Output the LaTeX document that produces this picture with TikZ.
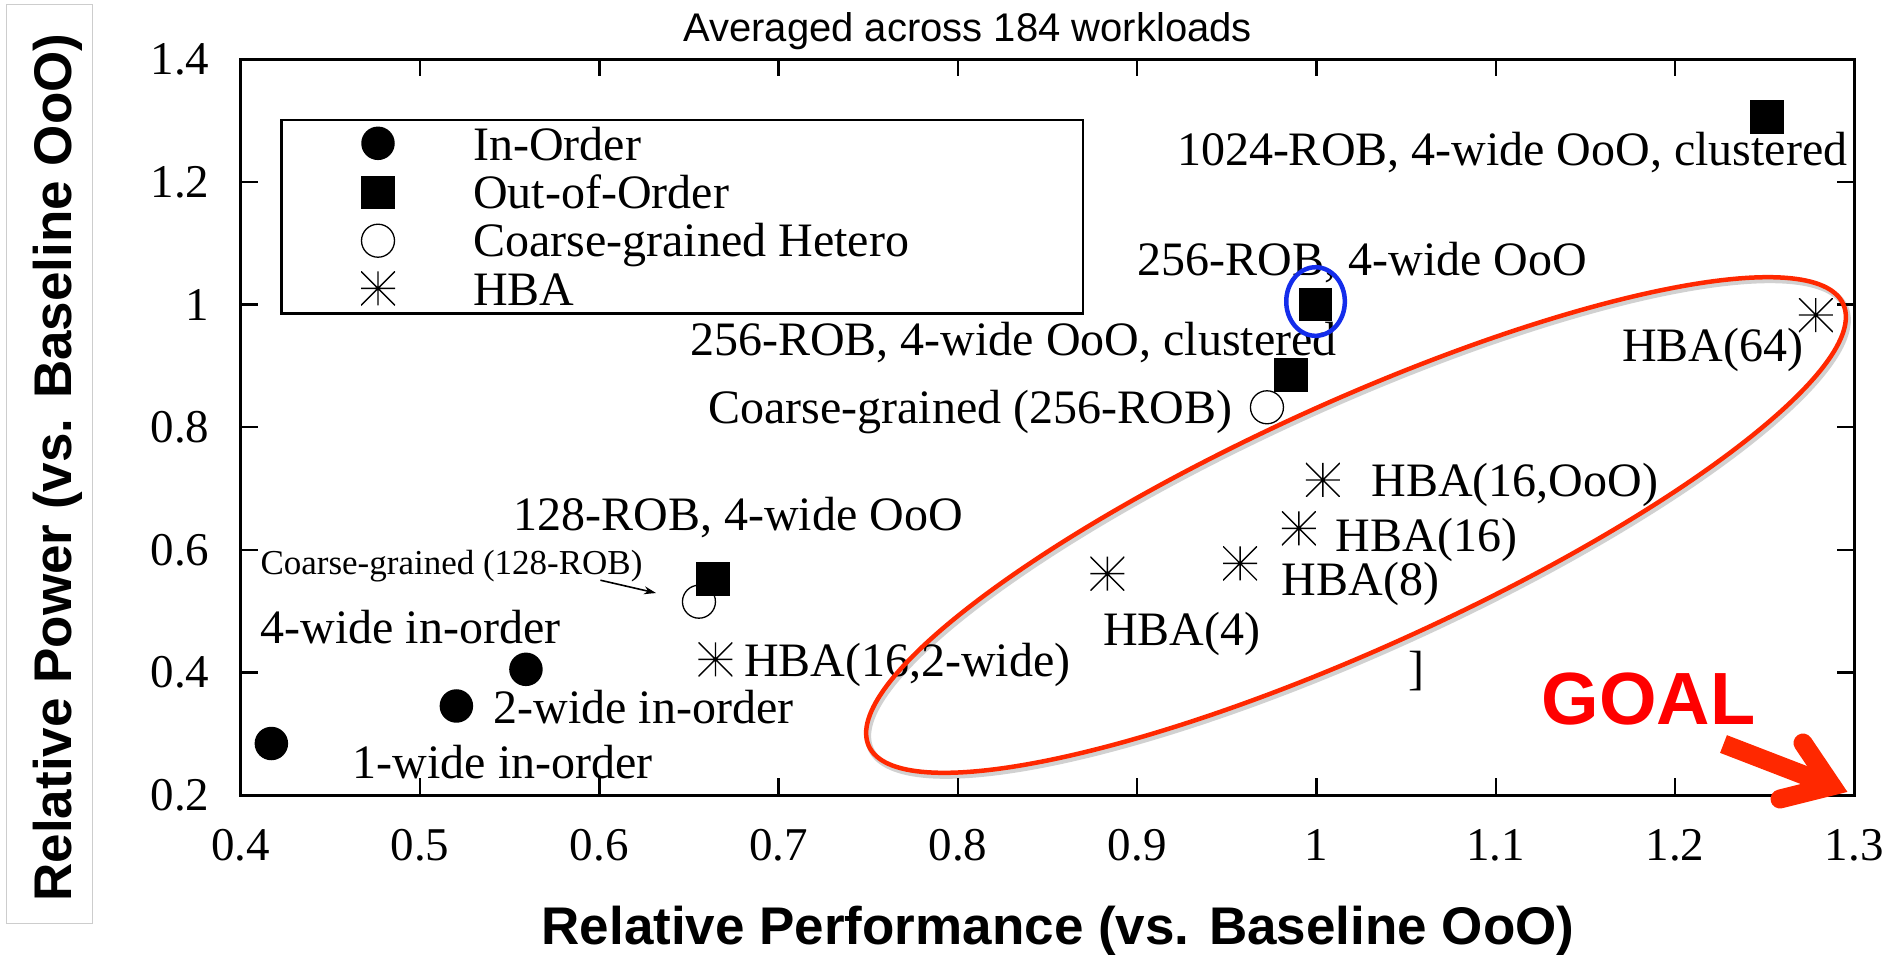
\documentclass[tikz,border=0pt]{standalone}
\usepackage{fontspec}
\setmainfont{Liberation Serif}
\newfontfamily\plotsans{Liberation Sans}
\usetikzlibrary{arrows.meta}

\definecolor{ringred}{RGB}{255,40,0}
\definecolor{goalred}{RGB}{255,0,0}
\definecolor{pickblue}{RGB}{20,45,235}
\definecolor{boxgray}{RGB}{205,205,205}

\newcommand{\fsz}[1]{\fontsize{#1}{#1}\selectfont}

\tikzset{
  frameline/.style={line width=3pt},
  tickline/.style={line width=2.5pt},
  ticklbl/.style={inner sep=0pt, font=\fsz{47}},
  lbl/.style={inner sep=0pt, anchor=base west, font=\fsz{48}},
  smalllbl/.style={lbl, font=\fsz{35}},
  axtitle/.style={inner sep=0pt, anchor=base, font=\plotsans\bfseries\fsz{53}},
  toptitle/.style={inner sep=0pt, anchor=base, font=\plotsans\fsz{40}},
  goaltext/.style={inner sep=0pt, anchor=base, text=goalred, font=\plotsans\bfseries\fsz{74}},
  incore/.style={circle, fill=black, minimum size=33.5pt, inner sep=0pt},
  ooocore/.style={rectangle, fill=black, minimum size=33.5pt, inner sep=0pt},
  cgcore/.style={circle, draw, line width=1.3pt, fill=white, minimum size=33pt, inner sep=0pt,
    path picture={\fill (path picture bounding box.center) circle (1.3pt);}},
  hbacore/.style={rectangle, minimum size=34pt, inner sep=0pt,
    path picture={\draw[line width=1.4pt]
      (path picture bounding box.north) -- (path picture bounding box.south)
      (path picture bounding box.west) -- (path picture bounding box.east)
      (path picture bounding box.north west) -- (path picture bounding box.south east)
      (path picture bounding box.north east) -- (path picture bounding box.south west);}},
  legendframe/.style={line width=2.5pt},
  pointer/.style={line width=1.6pt, -{Stealth[length=12pt,width=8pt]}},
  ring/.style={ringred, line width=4.5pt},
  ringshadow/.style={black, opacity=0.18, line width=6pt},
  pickring/.style={pickblue, line width=4.5pt},
  goalstroke/.style={ringred, line width=19pt}
}

\begin{document}
\begin{tikzpicture}[x=1pt, y=-1pt]
\useasboundingbox (0,0) rectangle (1888,954);

% vertical axis title in its own box
\draw[boxgray, line width=1pt] (6.7,4.7) rectangle (92.3,923.3);
\node[axtitle, rotate=90] (ytitle) at (71,467.5) {Relative Power (vs. Baseline OoO)};

% horizontal axis title and heading
\node[axtitle] (xtitle) at (1058,944.3) {Relative Performance (vs. Baseline OoO)};
\node[toptitle] (heading) at (967.6,41.7) {Averaged across 184 workloads};

% plot frame
\draw[frameline] (240.7,59.3) rectangle (1854.3,795);

% data coordinates: x = performance, y = power
\begin{scope}[shift={(-476.46,917.62)}, x=1792.9pt, y=613.1pt]
  \foreach \p in {0.5,0.6,0.7,0.8,0.9,1.0,1.1,1.2} {
    \draw[tickline] (\p,0.2) -- ++(0,17pt);
    \draw[tickline] (\p,1.4) -- ++(0,-17pt);
  }
  \foreach \w in {0.4,0.6,0.8,1.0,1.2} {
    \draw[tickline] (0.4,\w) -- ++(17pt,0);
    \draw[tickline] (1.3,\w) -- ++(-17pt,0);
  }
  \foreach \p/\t [count=\i] in {0.4/0.4,0.5/0.5,0.6/0.6,0.7/0.7,0.8/0.8,0.9/0.9,1.0/1,1.1/1.1,1.2/1.2,1.3/1.3}
    \node[ticklbl] (xt\i) at ([yshift=-50pt]\p,0.2) {\t};
  \foreach \w/\t [count=\i] in {0.2/0.2,0.4/0.4,0.6/0.6,0.8/0.8,1.0/1,1.2/1.2,1.4/1.4}
    \node[ticklbl, anchor=east] (yt\i) at ([xshift=-31pt]0.4,\w) {\t};

  % in-order cores
  \node[incore] (io1) at (0.4171,0.2840) {};
  \node[incore] (io2) at (0.5203,0.3452) {};
  \node[incore] (io4) at (0.5591,0.4050) {};
  % coarse-grained heterogeneous
  \node[cgcore] (cg128) at (0.6556,0.5153) {};
  \node[cgcore] (cg256) at (0.9724,0.8324) {};
  % out-of-order cores
  \node[ooocore] (o128) at (0.6635,0.5523) {};
  \node[ooocore] (o256c) at (0.9858,0.8850) {};
  \node[ooocore] (o256) at (0.9995,1.0000) {};
  \node[ooocore] (o1024) at (1.2514,1.3059) {};
  % HBA configurations
  \node[hbacore] (h16w2) at (0.6648,0.4213) {};
  \node[hbacore] (h4) at (0.8834,0.5610) {};
  \node[hbacore] (h8) at (0.9574,0.5779) {};
  \node[hbacore] (h16) at (0.9902,0.6350) {};
  \node[hbacore] (h16o) at (1.0036,0.7138) {};
  \node[hbacore] (h64) at (1.2785,0.9829) {};
\end{scope}

% legend
\draw[legendframe] (281.3,120) rectangle (1083,313.3);
\node[incore] (lgm1) at (378,143.3) {};
\node[ooocore] (lgm2) at (378,192.7) {};
\node[cgcore] (lgm3) at (378,240.7) {};
\node[hbacore] (lgm4) at (378,288.3) {};
\node[lbl] (lgt1) at (473,160) {In-Order};
\node[lbl] (lgt2) at (473,208.4) {Out-of-Order};
\node[lbl] (lgt3) at (473,256.7) {Coarse-grained Hetero};
\node[lbl] (lgt4) at (473,305) {HBA};

% point labels
\node[lbl] (l1024) at (1176.8,165) {1024-ROB, 4-wide OoO, clustered};
\node[lbl] (l256) at (1137.5,275) {256-ROB, 4-wide OoO};
\node[lbl] (l256c) at (690,355) {256-ROB, 4-wide OoO, clustered};
\node[lbl] (lcg256) at (708,423.3) {Coarse-grained (256-ROB)};
\node[lbl] (lh64) at (1622,361.7) {HBA(64)};
\node[lbl] (lh16o) at (1371.2,496.7) {HBA(16,OoO)};
\node[lbl] (lh16) at (1335.6,551.7) {HBA(16)};
\node[lbl] (lh8) at (1281.7,595) {HBA(8)};
\node[lbl] (lh4) at (1103,645) {HBA(4)};
\node[lbl] (lh16w2) at (743.8,676) {HBA(16,2-wide)};
\node[lbl] (l128) at (513.4,530.7) {128-ROB, 4-wide OoO};
\node[smalllbl] (lcg128) at (260.3,574.2) {Coarse-grained (128-ROB)};
\node[lbl] (lio4) at (260.3,643.8) {4-wide in-order};
\node[lbl] (lio2) at (493.3,723.3) {2-wide in-order};
\node[lbl] (lio1) at (352.7,778.1) {1-wide in-order};
\node[lbl] (stray) at (1408.7,684) {]};

% pointer to the 128-ROB coarse-grained point
\coordinate (cgtail) at (600.4,580.2);
\coordinate (cghead) at (656,593);
\draw[pointer] (cgtail) -- (cghead);

% highlight of the baseline core
\draw[pickring] ([yshift=3pt]o256.center) ellipse [x radius=29.3pt, y radius=34.3pt];

% ring around the HBA design points
\draw[ringshadow, rotate around={24.4:(1358,528)}] (1358,528) ellipse [x radius=535pt, y radius=123pt];
\draw[ring, rotate around={24.4:(1356,525)}] (1356,525) ellipse [x radius=535pt, y radius=123pt];

% goal arrow toward the lower right corner
\node[goaltext] (goal) at (1648.7,724) {GOAL};
\coordinate (goaltail) at (1723.5,744);
\coordinate (goalshaft) at (1822,782);
\coordinate (goaltip) at (1832,786);
\coordinate (goalarmA) at (1803,743);
\coordinate (goalarmB) at (1780,799);
\draw[goalstroke, line cap=butt] (goaltail) -- (goalshaft);
\draw[goalstroke, line cap=round, line join=miter] (goalarmA) -- (goaltip) -- (goalarmB);
\end{tikzpicture}
\end{document}
